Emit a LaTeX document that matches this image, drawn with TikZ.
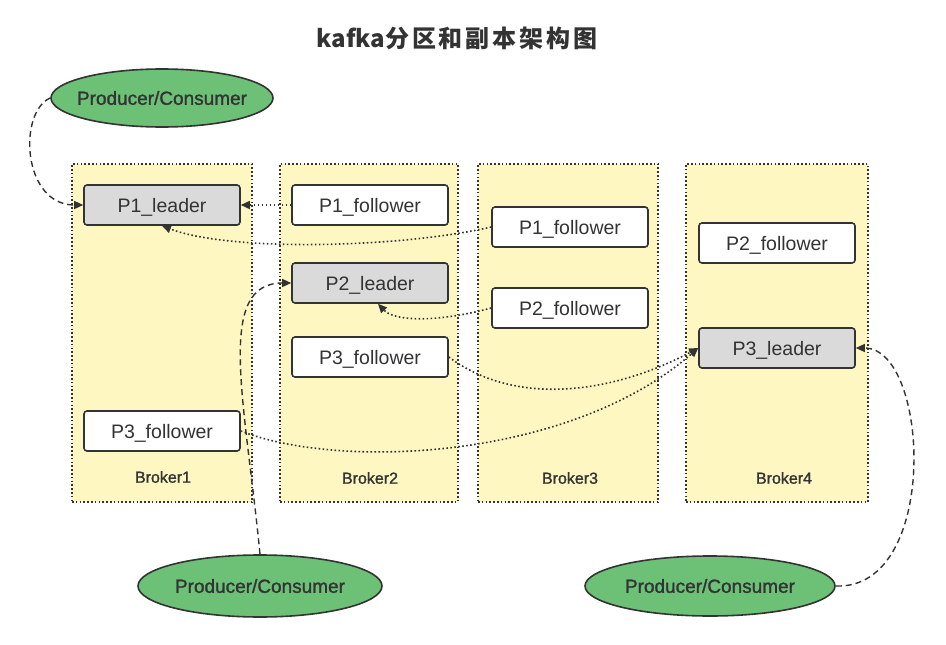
\documentclass[tikz,border=0pt]{standalone}
\usepackage{fontspec}
\setmainfont{Liberation Sans}
\newfontfamily\semib{Liberation Sans}[FakeBold=1.3]
\newfontfamily\cjk{Noto Sans CJK SC}
\usetikzlibrary{arrows.meta,shapes.geometric}
\definecolor{brokerfill}{HTML}{FFF7C2}
\definecolor{leaderfill}{HTML}{DADADA}
\definecolor{pcfill}{HTML}{6CC177}
\definecolor{ink}{HTML}{333333}
\begin{document}
\begin{tikzpicture}[x=1pt,y=-1pt,
  brokerbox/.style={draw=ink, fill=brokerfill, line width=1.4pt, dash pattern=on 1.6pt off 2.2pt, minimum height=338pt, inner sep=0pt},
  brokerlabel/.style={text=ink, font=\semib\fontsize{16}{19}\selectfont},
  part/.style={draw=ink, line width=1.6pt, rounded corners=3pt, minimum width=156pt, minimum height=40pt, inner sep=0pt, text height=14pt, text depth=0pt, text=ink, font=\fontsize{19.5}{22}\selectfont},
  follower/.style={part, fill=white},
  leader/.style={part, fill=leaderfill},
  pc/.style={ellipse, draw=ink, fill=pcfill, line width=1.6pt, inner sep=0pt, text=ink, font=\semib\fontsize{19}{22}\selectfont},
  repl/.style={draw=ink, line width=1.6pt, dash pattern=on 1.6pt off 2.4pt, -{Triangle[length=9pt,width=8pt]}},
  client/.style={draw=ink, line width=1.4pt, dash pattern=on 6pt off 4pt, -{Triangle[length=9pt,width=8pt]}}
]
\useasboundingbox (0,0) rectangle (946,645);

\node[text=ink, font=\cjk\bfseries\fontsize{24}{28}\selectfont] (title) at (457,38) {kafka\addfontfeature{LetterSpace=12}分区和副本架构图};

% brokers
\node[brokerbox, minimum width=180pt] (b1) at (162,333) {};
\node[brokerbox, minimum width=178pt] (b2) at (369,333) {};
\node[brokerbox, minimum width=180pt] (b3) at (568,333) {};
\node[brokerbox, minimum width=182pt] (b4) at (777,333) {};
\node[brokerlabel] (b1l) at (163,477) {Broker1};
\node[brokerlabel] (b2l) at (370,478) {Broker2};
\node[brokerlabel] (b3l) at (570,478) {Broker3};
\node[brokerlabel] (b4l) at (784,478) {Broker4};

% partitions
\node[leader] (p1l) at (162,205) {P1\_leader};
\node[follower] (p1f2) at (370,205) {P1\_follower};
\node[follower] (p1f3) at (570,227) {P1\_follower};
\node[leader] (p2l) at (370,283) {P2\_leader};
\node[follower] (p2f3) at (570,308) {P2\_follower};
\node[follower] (p3f2) at (370,357) {P3\_follower};
\node[follower] (p2f4) at (777,243) {P2\_follower};
\node[leader] (p3l) at (777,348) {P3\_leader};
\node[follower] (p3f1) at (162,431) {P3\_follower};

% producers / consumers
\node[pc, minimum width=222pt, minimum height=58pt] (pc1) at (162,98) {\makebox[0pt]{Producer/Consumer}};
\node[pc, minimum width=244pt, minimum height=62pt] (pc2) at (260,586) {\makebox[0pt]{Producer/Consumer}};
\node[pc, minimum width=250pt, minimum height=60pt] (pc3) at (710,586) {\makebox[0pt]{Producer/Consumer}};

% replication
\draw[repl] (p1f2.west) -- (p1l.east);
\draw[repl] (p1f3.west) .. controls (400,248) and (230,252) .. (p1l.south);
\draw[repl] (p2f3.west) .. controls (440,322) and (395,322) .. ([xshift=8pt]p2l.south);
\draw[repl] (p3f2.east) .. controls (520,410) and (620,390) .. (p3l.west);
\draw[repl] (p3f1.east) .. controls (340,470) and (570,460) .. (p3l.west);

% clients
\draw[client] (pc1.west) .. controls (18,112) and (22,205) .. (p1l.west);
\draw[client] (pc2.north) .. controls (245,400) and (215,283) .. (p2l.west);
\draw[client] (pc3.east) .. controls (940,590) and (930,348) .. (p3l.east);
\end{tikzpicture}
\end{document}
